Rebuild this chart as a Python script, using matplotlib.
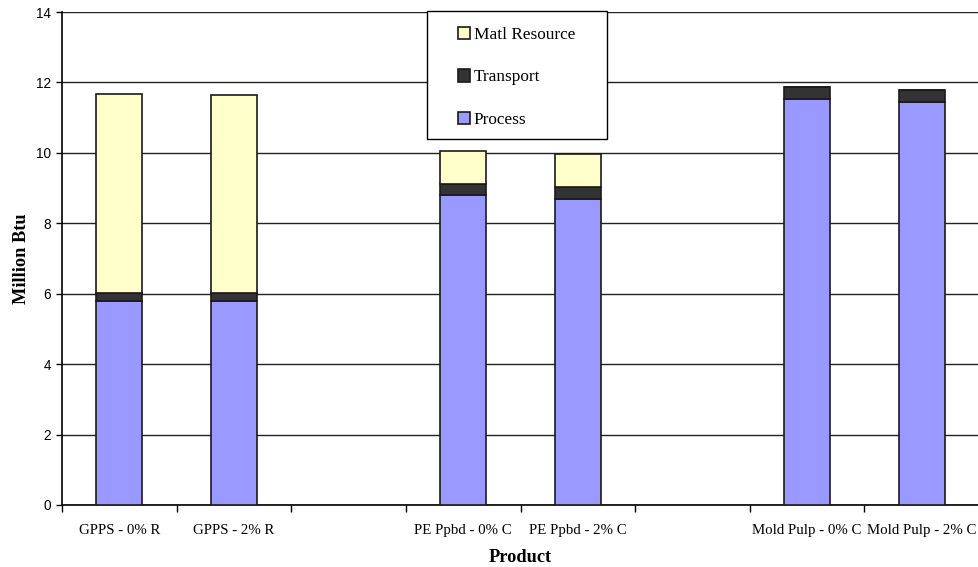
import matplotlib
matplotlib.use("Agg")
import matplotlib.pyplot as plt
from matplotlib.patches import Rectangle
import numpy as np

categories = ["GPPS - 0% R", "GPPS - 2% R", "", "PE Ppbd - 0% C", "PE Ppbd - 2% C", "",
              "Mold Pulp - 0% C", "Mold Pulp - 2% C"]
process = [5.80, 5.80, 0, 8.79, 8.70, 0, 11.52, 11.44]
transport = [0.21, 0.21, 0, 0.33, 0.33, 0, 0.35, 0.34]
matl_resource = [5.66, 5.62, 0, 0.93, 0.93, 0, 0.0, 0.0]
yticks = [0, 2, 4, 6, 8, 10, 12, 14]

plt.rcParams['font.family'] = ['Liberation Serif', 'DejaVu Serif']

W, H = 979, 567
fig = plt.figure(figsize=(W/100, H/100), dpi=100)
ax = fig.add_axes([62/W, 1-505/H, 917/W, 493/H])

x = np.arange(len(categories))
w = 0.4
mask = [c != "" for c in categories]
xs = x[mask]
p = np.array(process)[mask]
t = np.array(transport)[mask]
m = np.array(matl_resource)[mask]
ec = '#1a1a1a'
b1 = ax.bar(xs, p, w, color='#9999ff', edgecolor=ec, linewidth=1.2, label='Process', zorder=3)
b2 = ax.bar(xs, t, w, bottom=p, color='#333333', edgecolor=ec, linewidth=1.2, label='Transport', zorder=3)
b3 = ax.bar(xs, m, w, bottom=p + t, color='#ffffcc', edgecolor=ec, linewidth=1.2, label='Matl Resource', zorder=3)

ax.set_xlim(-0.5, len(categories) - 0.5)
ax.set_ylim(0, 14)
ax.set_yticks(yticks)
ax.set_yticklabels([str(v) for v in yticks], family=['Liberation Sans', 'DejaVu Sans'], fontsize=9.8)
ax.yaxis.grid(True, color='#222222', linewidth=1.0, zorder=0)
ax.set_axisbelow(True)

ax.set_xticks(x)
ax.set_xticklabels(categories, fontsize=10.7)
ax.tick_params(axis='x', length=0, pad=14)
ax.set_xticks(np.arange(len(categories) + 1) - 0.5, minor=True)
ax.tick_params(axis='x', which='minor', length=5, direction='out', width=1)
ax.tick_params(axis='y', length=4.5, direction='out', width=1, pad=3.5)

for s in ['top', 'right']:
    ax.spines[s].set_visible(False)
ax.spines['left'].set_linewidth(1.2)
ax.spines['bottom'].set_linewidth(1.2)

ax.set_xlabel('Product', fontsize=13.2, fontweight='bold', labelpad=8)
ax.set_ylabel('Million Btu', fontsize=13.2, fontweight='bold', labelpad=4)

# legend frame
frame = Rectangle((427/W, 1-139/H), 180/W, 128/H, transform=fig.transFigure,
                  facecolor='white', edgecolor='black', linewidth=1.0, zorder=4)
fig.patches.append(frame)

leg = fig.legend([b3, b2, b1], ['Matl Resource', 'Transport', 'Process'],
                 loc='upper left', bbox_to_anchor=(458/W, 1-27/H),
                 fontsize=12.4, frameon=False,
                 handlelength=0.72, handleheight=0.72, handletextpad=0.2,
                 labelspacing=1.52, borderpad=0, borderaxespad=0)
leg.set_zorder(5)

fig.savefig('out.png', dpi=100)
